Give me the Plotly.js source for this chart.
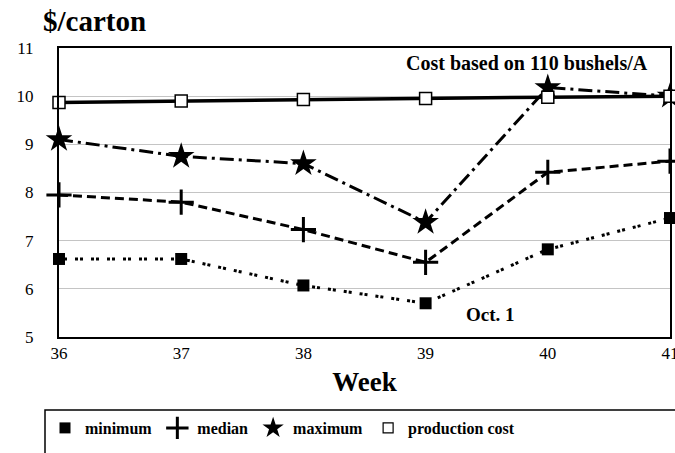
<!DOCTYPE html>
<html><head><meta charset="utf-8">
<script src="https://cdn.plot.ly/plotly-3.0.1.min.js"></script>
<style>body{margin:0;background:#fff}#chart{width:675px;height:453px}</style>
</head><body><div id="chart"></div>
<script>
const weeks = [36, 37, 38, 39, 40, 41];
const minimum = [6.62, 6.62, 6.07, 5.7, 6.82, 7.47];
const median = [7.95, 7.8, 7.23, 6.55, 8.42, 8.65];
const maximum = [9.1, 8.75, 8.6, 7.38, 10.18, 10.0];
const productionCost = [9.87, 9.9, 9.93, 9.95, 9.98, 10.0];
const seriesNames = ['minimum', 'median', 'maximum', 'production cost'];
const yTicks = [5, 6, 7, 8, 9, 10, 11];

const FONT = 'Liberation Serif, Times New Roman, serif';
const styles = [
  {dash: '3px,2px,3px,8px', width: 3, marker: {symbol: 'square', size: 12, color: '#000'}},
  {dash: '9px,5px', width: 3, marker: {symbol: 'cross-thin', size: 18, color: '#000', line: {color: '#000', width: 3}}},
  {dash: '14px,5px,3px,5px', width: 3, marker: {symbol: 'star', size: 20, color: '#000'}},
  {dash: 'solid', width: 3.5, marker: {symbol: 'square', size: 12, color: '#fff', line: {color: '#000', width: 1.5}}}
];
const series = [minimum, median, maximum, productionCost];
const traces = [];
series.forEach((ys, i) => {
  traces.push({x: weeks, y: ys, type: 'scatter', mode: 'lines+markers', name: seriesNames[i],
    showlegend: false, cliponaxis: false,
    line: {color: '#000', width: styles[i].width, dash: styles[i].dash},
    marker: styles[i].marker});
});
// legend-only entries (marker only)
const legendMarkers = [
  {symbol: 'square', size: 11, color: '#000'},
  {symbol: 'cross-thin', size: 16, color: '#000', line: {color: '#000', width: 3}},
  {symbol: 'star', size: 17, color: '#000'},
  {symbol: 'square', size: 10, color: '#fff', line: {color: '#000', width: 1.2}}
];
seriesNames.forEach((n, i) => {
  traces.push({x: [null], y: [null], type: 'scatter', mode: 'markers', name: n,
    showlegend: true, marker: legendMarkers[i]});
});

const PW = 611, PH = 289;
const layout = {
  width: 675, height: 453,
  margin: {l: 59, r: 5, t: 48, b: 116},
  paper_bgcolor: '#fff', plot_bgcolor: '#fff',
  font: {family: FONT, color: '#000', size: 17},
  title: {text: '<b>$/carton</b>', font: {family: FONT, size: 29, color: '#000'},
    x: 43/675, xanchor: 'left', xref: 'container', y: 1 - 21/453, yref: 'container', yanchor: 'middle'},
  xaxis: {range: [36, 41], tickvals: weeks, ticktext: weeks.map(String),
    showgrid: false, zeroline: false, showline: true, mirror: true, linecolor: '#000', linewidth: 2,
    ticks: '', ticklabeloverflow: 'allow', tickfont: {family: FONT, size: 17, color: '#000'},
    title: {text: '<b>Week</b>', font: {family: FONT, size: 27, color: '#000'}, standoff: 10}},
  yaxis: {range: [5, 11], tickvals: yTicks, ticktext: yTicks.map(String),
    showgrid: true, gridcolor: '#c4c4c4', gridwidth: 1, zeroline: false,
    showline: true, mirror: true, linecolor: '#000', linewidth: 2,
    ticks: '', ticklabelstandoff: 20, tickfont: {family: FONT, size: 17, color: '#000'}},
  showlegend: true,
  legend: {orientation: 'h', x: (45 - 59) / PW, xanchor: 'left', y: (337 - 411) / PH, yanchor: 'top',
    borderwidth: 0, bgcolor: 'rgba(0,0,0,0)',
    font: {family: FONT, size: 16, color: '#000', weight: 'bold'},
    itemwidth: 30, traceorder: 'normal'},
  shapes: [
    {type: 'rect', xref: 'paper', yref: 'paper', layer: 'below',
      x0: (45 - 59) / PW, x1: (680 - 59) / PW, y0: (337 - 410) / PH, y1: (337 - 462) / PH,
      line: {color: '#000', width: 1.5}, fillcolor: 'rgba(0,0,0,0)'}
  ],
  annotations: [
    {text: '<b>Cost based on 110 bushels/A</b>', x: 39.83, y: 10.69, xref: 'x', yref: 'y',
      showarrow: false, font: {family: FONT, size: 20, color: '#000'}},
    {text: '<b>Oct. 1</b>', x: 39.53, y: 5.46, xref: 'x', yref: 'y',
      showarrow: false, font: {family: FONT, size: 19, color: '#000'}}
  ]
};
Plotly.newPlot('chart', traces, layout, {displayModeBar: false, staticPlot: true});
</script></body></html>
